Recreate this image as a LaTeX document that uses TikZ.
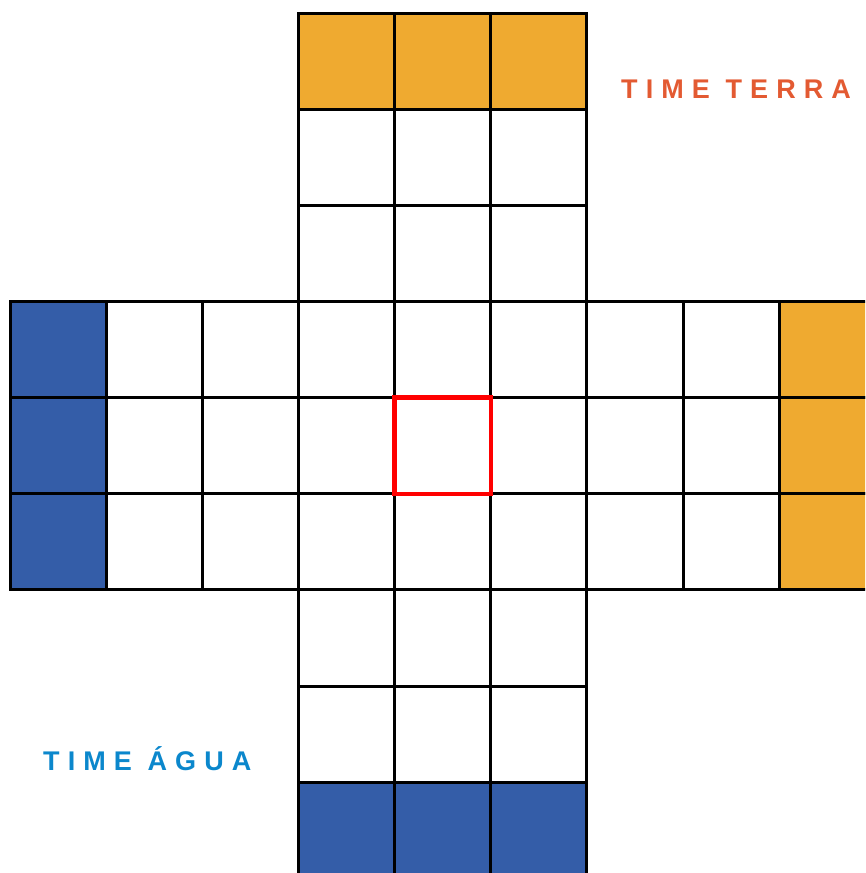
\documentclass[tikz,border=0pt]{standalone}
\usepackage{fontspec}
\setmainfont{Liberation Sans}
\newfontfamily\terrafont[LetterSpace=30]{Liberation Sans Bold}
\newfontfamily\aguafont[LetterSpace=30]{Liberation Sans Bold}
\definecolor{gold}{HTML}{EFAA30}
\definecolor{navy}{HTML}{345DA8}
\definecolor{terra}{HTML}{E35A32}
\definecolor{agua}{HTML}{0B87CC}
\tikzset{
  cell/.style={draw=black,line width=3pt},
  target/.style={draw=red,line width=4.4pt},
  teamlabel/.style={anchor=base west,inner sep=0pt,font=\fontsize{27}{27}\selectfont}
}
\newcommand{\cs}{96.15}
\begin{document}
\begin{tikzpicture}[x=1pt,y=-1pt]
\useasboundingbox (0,0) rectangle (865,873);
\clip (0,0) rectangle (865,873);
\begin{scope}[shift={(10,13)}]
  % fills
  \foreach \c in {3,4,5} {
    \fill[gold] (\c*\cs,0) rectangle ++(\cs,\cs);
    \fill[navy] (\c*\cs,8*\cs) rectangle ++(\cs,\cs);
  }
  \foreach \r in {3,4,5} {
    \fill[navy] (0,\r*\cs) rectangle ++(\cs,\cs);
    \fill[gold] (8*\cs,\r*\cs) rectangle ++(\cs,\cs);
  }
  % outlines
  \foreach \r in {0,1,2,6,7,8} \foreach \c in {3,4,5} {
    \draw[cell] (\c*\cs,\r*\cs) rectangle ++(\cs,\cs);
  }
  \foreach \r in {3,4,5} \foreach \c in {0,...,8} {
    \draw[cell] (\c*\cs,\r*\cs) rectangle ++(\cs,\cs);
  }
  \draw[target] (4*\cs,4*\cs) rectangle ++(\cs,\cs);
\end{scope}
\node[teamlabel,text=terra] (terra) at (621,98.5) {\terrafont TIME TERRA};
\node[teamlabel,text=agua] (agua) at (43,770.5) {\aguafont TIME ÁGUA};
\end{tikzpicture}
\end{document}
